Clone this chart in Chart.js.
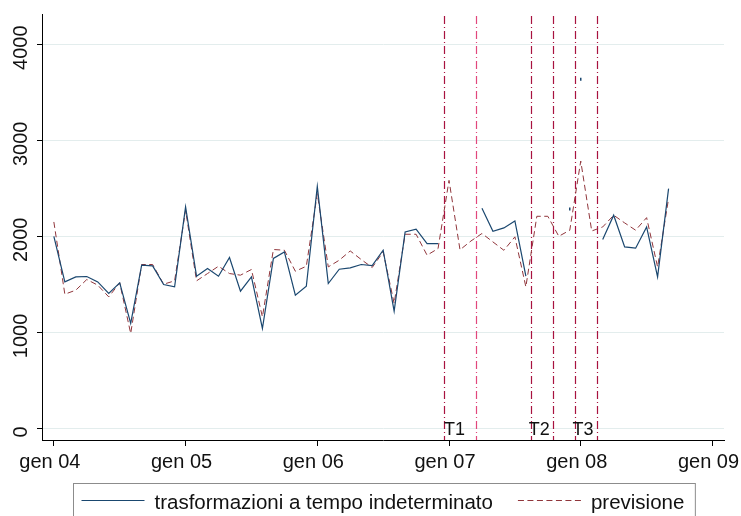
<!DOCTYPE html>
<html>
<head>
<meta charset="utf-8">
<script src="https://cdn.jsdelivr.net/npm/chart.js@4.4.0/dist/chart.umd.min.js"></script>
<style>
  html, body { margin: 0; padding: 0; background: #fff; overflow: hidden; }
  canvas { display: block; }
</style>
</head>
<body>
<canvas id="chart" width="741" height="516"></canvas>
<script>
// months counted from gen 2004 (0) up to set 2008 (56)
const months = [0, 1, 2, 3, 4, 5, 6, 7, 8, 9, 10, 11, 12, 13, 14, 15, 16, 17, 18, 19,
  20, 21, 22, 23, 24, 25, 26, 27, 28, 29, 30, 31, 32, 33, 34, 35, 36, 37, 38, 39,
  40, 41, 42, 43, 44, 45, 46, 47, 48, 49, 50, 51, 52, 53, 54, 55, 56];

// observed series (gaps where nothing is drawn)
const trasformazioni = [2006, 1531, 1583, 1587, 1531, 1410, 1521, 1099, 1705, 1697,
  1504, 1479, 2311, 1590, 1670, 1590, 1785, 1434, 1583, 1046,
  1775, 1843, 1393, 1486, 2526, 1514, 1663, 1677, 1712, 1701,
  1861, 1227, 2051, 2079, 1930, 1930, null, null, null, 2297,
  2058, 2093, 2165, 1590, null, null, null, 2290, 3640, null,
  1972, 2225, 1895, 1882, 2103, 1583, 2502];
// segments (by start index) of the observed line that do not show
const hiddenSegments = [47];

// forecast
const previsione = [2155, 1403, 1445, 1556, 1497, 1375, 1521, 994, 1712, 1712,
  1507, 1542, 2277, 1542, 1618, 1694, 1618, 1601, 1660, 1167,
  1868, 1861, 1642, 1694, 2450, 1687, 1757, 1853, 1764, 1681,
  1843, 1307, 2027, 2027, 1809, 1878, 2588, 1865, 1957, 2035,
  1947, 1860, 2000, 1480, 2214, 2214, 2006, 2069, 2789, 2061,
  2103, 2225, 2145, 2069, 2200, 1687, 2398];

// axes
const xTickValues = [0, 12, 24, 36, 48, 60];
const xTickLabels = ['gen 04', 'gen 05', 'gen 06', 'gen 07', 'gen 08', 'gen 09'];
const yTickValues = [0, 1000, 2000, 3000, 4000];

// vertical reference lines (months) and period labels
const refLines = [35.5, 38.5, 43.5, 45.5, 47.5, 49.5];
const refColors = ['#a8123f', '#e2477c', '#a8123f', '#a8123f', '#a8123f', '#a8123f'];
const periodLabels = ['T1', 'T2', 'T3'];
const periodX = [35.55, 43.27, 47.25];

const FONT = "'Liberation Sans', Arial, Helvetica, sans-serif";
Chart.defaults.font.family = FONT;
Chart.defaults.color = '#000';

function linked(arr, i, j) {
  // true when the segment between i and j (j = i + 1) is drawn
  const s = Math.min(i, j);
  return arr[i] != null && arr[j] != null && !hiddenSegments.includes(s);
}
function isolated(arr, i) {
  return arr[i] != null && !linked(arr, i, i - 1) && !linked(arr, i, i + 1);
}

// vertical dash-dot lines + T labels
const refLinePlugin = {
  id: 'refLines',
  beforeDatasetsDraw(chart) {
    const {ctx, chartArea} = chart;
    const xs = chart.scales.x;
    ctx.save();
    ctx.lineWidth = 1.2;
    ctx.setLineDash([8, 3, 1, 3]);
    refLines.forEach((m, i) => {
      const px = Math.round(xs.getPixelForValue(m)) + 0.5;
      ctx.strokeStyle = refColors[i];
      ctx.beginPath();
      ctx.moveTo(px, chartArea.top + 2);
      ctx.lineTo(px, chartArea.bottom);
      ctx.stroke();
    });
    ctx.restore();
  },
  afterDatasetsDraw(chart) {
    const {ctx} = chart;
    const xs = chart.scales.x, ys = chart.scales.y;
    ctx.save();
    ctx.font = '18px ' + FONT;
    ctx.fillStyle = '#111';
    ctx.textAlign = 'left';
    ctx.textBaseline = 'middle';
    periodLabels.forEach((t, i) => {
      ctx.fillText(t, xs.getPixelForValue(periodX[i]), ys.getPixelForValue(0) + 1);
    });
    ctx.restore();
  }
};

// rotated y tick labels
const yLabelPlugin = {
  id: 'yLabels',
  afterDraw(chart) {
    const {ctx} = chart;
    const ys = chart.scales.y;
    ctx.save();
    ctx.font = '20px ' + FONT;
    ctx.fillStyle = '#111';
    ctx.textAlign = 'center';
    ctx.textBaseline = 'middle';
    yTickValues.forEach(v => {
      ctx.save();
      ctx.translate(21.5, ys.getPixelForValue(v) + 3);
      ctx.rotate(-Math.PI / 2);
      ctx.fillText(String(v), 0, 0);
      ctx.restore();
    });
    ctx.restore();
  }
};

// boxed legend at the bottom
const legendPlugin = {
  id: 'boxLegend',
  afterDraw(chart) {
    const {ctx, chartArea} = chart;
    const ds = chart.data.datasets;
    ctx.save();
    ctx.font = '20.5px ' + FONT;
    const sample = 63, gapText = 10, gapItem = 25, padL = 8, padR = 11;
    const w1 = ctx.measureText(ds[0].label).width;
    const w2 = ctx.measureText(ds[1].label).width;
    const total = padL + sample + gapText + w1 + gapItem + sample + gapText + w2 + padR;
    const cx = (chartArea.left + chartArea.right) / 2 + 1;
    const left = Math.round(cx - total / 2) + 0.5;
    const top = 483.5;
    ctx.strokeStyle = '#8c8c8c';
    ctx.lineWidth = 1;
    ctx.strokeRect(left, top, total, 60);
    const ly = 500.5;
    let x = left + padL;
    [[ds[0], w1], [ds[1], w2]].forEach(([d, w]) => {
      ctx.strokeStyle = d.borderColor;
      ctx.lineWidth = 1.2;
      ctx.setLineDash(d.borderDash || []);
      ctx.beginPath();
      ctx.moveTo(x, ly);
      ctx.lineTo(x + sample, ly);
      ctx.stroke();
      ctx.setLineDash([]);
      ctx.fillStyle = '#111';
      ctx.textAlign = 'left';
      ctx.textBaseline = 'middle';
      ctx.fillText(d.label, x + sample + gapText, ly + 3);
      x += sample + gapText + w + gapItem;
    });
    ctx.restore();
  }
};

new Chart(document.getElementById('chart').getContext('2d'), {
  type: 'line',
  data: {
    datasets: [{
      label: 'trasformazioni a tempo indeterminato',
      data: months.map((m, i) => ({x: m, y: trasformazioni[i]})),
      borderColor: '#1a476f',
      borderWidth: 1.2,
      tension: 0,
      spanGaps: false,
      segment: {
        borderColor: c => hiddenSegments.includes(c.p0DataIndex) ? 'rgba(0,0,0,0)' : undefined
      },
      pointStyle: 'line',
      rotation: 90,
      pointBorderColor: '#1a476f',
      pointBorderWidth: 1.5,
      pointRadius: c => isolated(trasformazioni, c.dataIndex) ? 1.5 : 0
    }, {
      label: 'previsione',
      data: months.map((m, i) => ({x: m, y: previsione[i]})),
      borderColor: '#90353b',
      borderWidth: 1,
      borderDash: [6, 3.5],
      tension: 0,
      pointRadius: 0
    }]
  },
  options: {
    responsive: false,
    animation: false,
    events: [],
    layout: { padding: { left: 0, right: 17, top: 14, bottom: 31 } },
    plugins: {
      legend: { display: false },
      tooltip: { enabled: false }
    },
    scales: {
      x: {
        type: 'linear',
        min: -1.08,
        max: 61.05,
        afterBuildTicks: axis => { axis.ticks = xTickValues.map(v => ({value: v})); },
        afterFit: axis => { axis.height = 45; axis.paddingLeft = 0; axis.paddingRight = 0; },
        grid: { drawOnChartArea: false, drawTicks: true, tickLength: 6, tickColor: '#000' },
        border: { color: '#000', width: 1 },
        ticks: {
          font: { size: 20 },
          color: '#111',
          padding: 4,
          labelOffset: -4,
          maxRotation: 0,
          callback: (v, i) => xTickLabels[i]
        }
      },
      y: {
        min: -115,
        max: 4320,
        afterBuildTicks: axis => { axis.ticks = yTickValues.map(v => ({value: v})); },
        afterFit: axis => { axis.width = 42; axis.paddingTop = 0; axis.paddingBottom = 0; },
        grid: { color: '#e3eded', lineWidth: 1, drawTicks: true, tickLength: 5, tickColor: '#000' },
        border: { color: '#000', width: 1 },
        ticks: { display: false }
      }
    }
  },
  plugins: [refLinePlugin, yLabelPlugin, legendPlugin]
});
</script>
</body>
</html>
